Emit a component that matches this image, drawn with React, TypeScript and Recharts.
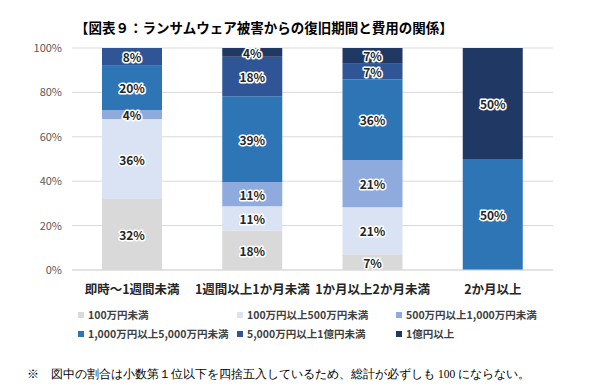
import React from "react";
import { BarChart, Bar, XAxis, YAxis, CartesianGrid, Legend, LabelList } from "recharts";

const categories = ["即時～1週間未満", "1週間以上1か月未満", "1か月以上2か月未満", "2か月以上"];
const seriesNames = [
  "100万円未満",
  "100万円以上500万円未満",
  "500万円以上1,000万円未満",
  "1,000万円以上5,000万円未満",
  "5,000万円以上1億円未満",
  "1億円以上",
];
const seriesColors = ["#d9d9d9", "#dae3f3", "#8faadc", "#2e75b6", "#2f5597", "#203864"];
const s1 = [32, 18, 7, 0];
const s2 = [36, 11, 21, 0];
const s3 = [4, 11, 21, 0];
const s4 = [20, 39, 36, 50];
const s5 = [8, 18, 7, 0];
const s6 = [0, 4, 7, 50];
const seriesValues = [s1, s2, s3, s4, s5, s6];
const yTicks = [0, 0.2, 0.4, 0.6, 0.8, 1];

const title = "【図表９：ランサムウェア被害からの復旧期間と費用の関係】";
const footnote = "※　図中の割合は小数第１位以下を四捨五入しているため、総計が必ずしも 100 にならない。";

const data = categories.map((c, i) => {
  const row: any = { name: c };
  seriesValues.forEach((vals, k) => {
    row["s" + k] = vals[i];
  });
  return row;
});

const FONT = "'Noto Sans CJK JP', 'Noto Sans', sans-serif";

const renderLabel = (props: any) => {
  const { x, y, width, height, value } = props;
  const v = Array.isArray(value) ? value[1] - value[0] : value;
  if (!v || Number(height) <= 0) return null;
  return (
    <text
      x={Number(x) + Number(width) / 2}
      y={Number(y) + Number(height) / 2}
      textAnchor="middle"
      dominantBaseline="central"
      fontSize={12}
      fontWeight={700}
      fontFamily={FONT}
      fill="#262626"
      stroke="#ffffff"
      strokeWidth={3}
      strokeLinejoin="round"
      paintOrder="stroke"
    >
      {v + "%"}
    </text>
  );
};

const renderLegend = () => (
  <div style={{ position: "relative", width: 600, height: 0, fontFamily: FONT }}>
    {seriesNames.map((n, k) => {
      const col = k % 3;
      const row = Math.floor(k / 3);
      return (
        <div
          key={n}
          style={{
            position: "absolute",
            left: 78 + col * 159,
            top: row * 19,
            display: "flex",
            alignItems: "center",
            fontSize: 10.5,
            fontWeight: 700,
            color: "#404040",
            whiteSpace: "nowrap",
            lineHeight: "14px",
          }}
        >
          <span style={{ display: "inline-block", width: 6, height: 6, background: seriesColors[k], marginRight: 4 }} />
          {n}
        </div>
      );
    })}
  </div>
);

export default function App() {
  return (
    <div style={{ position: "absolute", left: 0, top: 0, width: 600, height: 389, background: "#fff", overflow: "hidden" }}>
      <div
        style={{
          position: "absolute",
          left: 75,
          top: 17,
          fontSize: 13.5,
          fontWeight: 700,
          fontFamily: FONT,
          color: "#000",
          whiteSpace: "nowrap",
          lineHeight: "20px",
        }}
      >
        {title}
      </div>
      <div style={{ position: "absolute", left: 0, top: 0 }}>
        <BarChart
          width={600}
          height={389}
          data={data}
          stackOffset="expand"
          margin={{ top: 48, right: 47, left: 0, bottom: 89 }}
          barSize={60}
        >
          <CartesianGrid vertical={false} stroke="#d9d9d9" />
          <XAxis
            dataKey="name"
            height={30}
            axisLine={{ stroke: "#d9d9d9" }}
            tickLine={false}
            tickMargin={9}
            interval={0}
            tick={{ fontSize: 12.5, fontWeight: 700, fill: "#262626", fontFamily: FONT }}
          />
          <YAxis
            width={72}
            domain={[0, 1]}
            ticks={yTicks}
            axisLine={false}
            tickLine={false}
            tickMargin={4}
            tickFormatter={(v: number) => Math.round(v * 100) + "%"}
            tick={{ fontSize: 11, fill: "#595959", fontFamily: FONT }}
          />
          {seriesNames.map((n, k) => (
            <Bar key={n} dataKey={"s" + k} name={n} stackId="a" fill={seriesColors[k]} isAnimationActive={false}>
              <LabelList dataKey={"s" + k} content={renderLabel} />
            </Bar>
          ))}
          <Legend
            content={renderLegend}
            wrapperStyle={{ position: "absolute", left: 0, top: 308, width: 600, height: 0 }}
          />
        </BarChart>
      </div>
      <div
        style={{
          position: "absolute",
          left: 27,
          top: 366,
          fontSize: 11.5,
          fontFamily: "serif",
          color: "#000",
          whiteSpace: "nowrap",
          lineHeight: "16px",
        }}
      >
        {footnote}
      </div>
    </div>
  );
}
